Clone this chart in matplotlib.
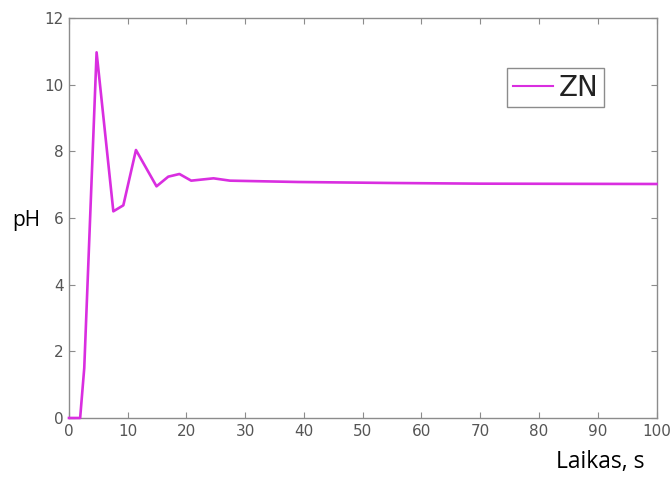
import matplotlib
matplotlib.use("Agg")
import matplotlib.pyplot as plt

# pH response of the ZN-tuned controller
laikas = [0, 1.9, 2.6, 4.7, 7.55, 9.25, 11.4, 14.9, 16.9, 18.8, 20.8, 24.6, 27.4, 39, 55, 70, 100]
ph = [0, 0, 1.5, 10.97, 6.2, 6.38, 8.04, 6.95, 7.24, 7.32, 7.12, 7.19, 7.12, 7.08, 7.05, 7.03, 7.02]

xticks = list(range(0, 101, 10))
yticks = list(range(0, 13, 2))

fig = plt.figure(figsize=(6.71, 4.80), dpi=100)
ax = fig.add_axes([0.1028, 0.1292, 0.9784 - 0.1028, 0.9625 - 0.1292])

ax.plot(laikas, ph, color='#d92ee0', linewidth=1.9, label='ZN', clip_on=False, zorder=3)

ax.set_xlim(0, 100)
ax.set_ylim(0, 12)
ax.set_xticks(xticks)
ax.set_yticks(yticks)

for s in ax.spines.values():
    s.set_color('#8c8c8c')
    s.set_linewidth(1.0)
ax.tick_params(direction='in', length=4, width=0.8, colors='#8c8c8c',
               labelcolor='#555555', labelsize=11, top=True, right=True, pad=4)

leg = ax.legend(loc='upper left', bbox_to_anchor=(0.7455, 0.875), borderaxespad=0,
                fontsize=20, handlelength=1.45, handletextpad=0.2, borderpad=0.2,
                fancybox=False, framealpha=1)
leg.get_frame().set_edgecolor('#8c8c8c')
leg.get_frame().set_linewidth(1.0)
for line in leg.get_lines():
    line.set_linewidth(1.5)
for txt in leg.get_texts():
    txt.set_color('#222222')

# axis titles sit outside the axes box
fig.text(0.018, 0.54, 'pH', fontsize=15, family='Open Sans', color='black', va='center')
fig.text(0.829, 0.012, 'Laikas, s', fontsize=16.5, family='Open Sans', color='black', va='bottom')

fig.savefig('out.png', dpi=100)
